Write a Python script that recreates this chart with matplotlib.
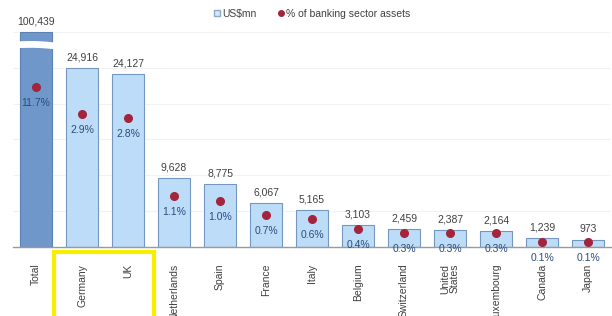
import matplotlib.pyplot as plt
import numpy as np
from matplotlib.lines import Line2D
from matplotlib.patches import Rectangle

plt.rcParams["font.family"] = ["Liberation Sans", "DejaVu Sans"]

# данные
countries = ["Total", "Germany", "UK", "Netherlands", "Spain", "France", "Italy",
             "Belgium", "Switzerland", "United\nStates", "Luxembourg", "Canada", "Japan"]
usd_mn = [100439, 24916, 24127, 9628, 8775, 6067, 5165, 3103, 2459, 2387, 2164, 1239, 973]
pct_assets = [11.7, 2.9, 2.8, 1.1, 1.0, 0.7, 0.6, 0.4, 0.3, 0.3, 0.3, 0.1, 0.1]

# разрыв оси для столбца Total
bar_cap = 30000
pct_cap = 3.48

fig = plt.figure(figsize=(6.12, 3.16), dpi=100)
ax = fig.add_axes([13 / 612, 69 / 316, 598 / 612, 242 / 316])
ax2 = ax.twinx()

x = np.arange(len(countries))
heights = [min(v, bar_cap) for v in usd_mn]
colors = ["#6f97c9"] + ["#bcdcf7"] * (len(countries) - 1)
edges = ["#5a82b5"] + ["#7497bf"] * (len(countries) - 1)
ax.bar(x, heights, width=0.7, color=colors, edgecolor=edges, linewidth=0.8, zorder=2)

# белая полоса разрыва на столбце Total
wx = np.linspace(-0.42, 0.42, 50)
wave = 120 * np.sin((wx + 0.42) / 0.84 * np.pi) - 200 * (wx + 0.42)
ax.fill_between(wx, 27800 + wave, 28750 + wave, color="white", zorder=3, linewidth=0)

for xi, v, h in zip(x, usd_mn, heights):
    ax.annotate(f"{v:,}", (xi, h), xytext=(0, 4), textcoords="offset points",
                ha="center", va="bottom", fontsize=7.5, color="#404040")

ax.set_xlim(-0.5, len(countries) - 0.5)
ax.set_ylim(0, 242 / 7.17 * 1000)
ax.set_yticks(np.arange(5000, 30001, 5000))
ax.grid(axis="y", color="#f2f2f2", linewidth=0.8, zorder=0)
ax.set_axisbelow(True)
ax.tick_params(axis="y", length=0, labelleft=False)
ax.set_xticks(x)
ax.set_xticklabels(countries, rotation=90, fontsize=7.5, color="#404040",
                   va="top", linespacing=0.95)
ax.tick_params(axis="x", length=0, pad=12)
for s in ["top", "right", "left"]:
    ax.spines[s].set_visible(False)
ax.spines["bottom"].set_color("#9a9a9a")
ax.spines["bottom"].set_linewidth(1.0)

# точки процента
pct_shown = [min(p, pct_cap) for p in pct_assets]
ax2.plot(x, pct_shown, "o", color="#a3243b", markersize=5.5, zorder=5, linestyle="none")
for xi, p, ps in zip(x, pct_assets, pct_shown):
    ax2.annotate(f"{p:.1f}%", (xi, ps), xytext=(0, -11.5), textcoords="offset points",
                 ha="center", va="center", fontsize=7.5, color="#2b4c7e")
ax2.set_ylim(0, 242 / 46)
ax2.axis("off")

# легенда
handles = [
    Line2D([], [], marker="s", color="none", markerfacecolor="#d6e8f8",
           markeredgecolor="#8aa8c8", markersize=4.5),
    Line2D([], [], marker="o", color="none", markerfacecolor="#a3243b",
           markeredgecolor="#a3243b", markersize=4),
]
fig.legend(handles, ["US$mn", "% of banking sector assets"], ncol=2, frameon=False,
           loc="center", bbox_to_anchor=(312 / 612, 1 - 14 / 316), fontsize=7.5,
           handlelength=0.6, handletextpad=0.2, columnspacing=2.0, labelcolor="#404040")

# жёлтая рамка вокруг Germany и UK
fig.patches.append(Rectangle((54 / 612, -0.05), 100 / 612, (316 - 252) / 316 + 0.05,
                             transform=fig.transFigure, fill=False,
                             edgecolor="#f7ee00", linewidth=3))

fig.savefig("out.png", dpi=100)
